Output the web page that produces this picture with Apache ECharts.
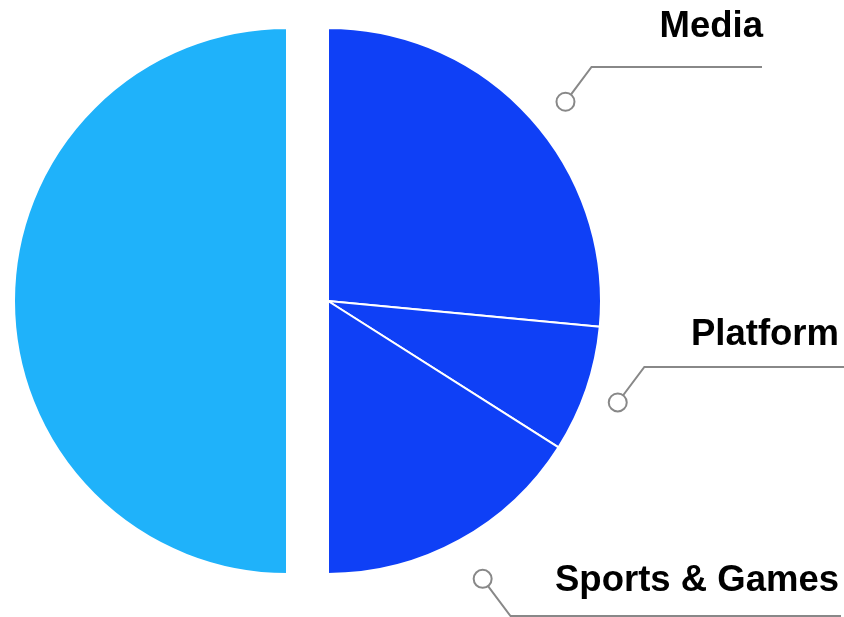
<!DOCTYPE html>
<html>
<head>
<meta charset="utf-8">
<script src="https://cdn.jsdelivr.net/npm/echarts@6/dist/echarts.min.js"></script>
<style>
  html, body { margin: 0; padding: 0; background: #fff; }
  #chart { width: 844px; height: 617px; }
</style>
</head>
<body>
<div id="chart"></div>
<script>
// Shares of the right half
const categories = ['Media', 'Platform', 'Sports & Games'];
const shares = [53, 15, 32];
// Pale half-disc that balances the three shares
const restName = 'Other';
const restValue = 100;

const DARK = '#0f40f6';
const LIGHT = '#1fb2fa';
const LEAD = '#888888';
const CENTER = [328, 301];
const RADIUS = 273;
const RING_R = 9;                  // marker ring at the foot of each leader
const LEAD_GAP = [37, 34, 45];     // how far beyond the rim each ring sits
const LEAD_SWING = [2.3, 0.4, -0.3]; // clockwise nudge of each ring, degrees
// Where each caption's leader levels off, and where its text sits
const captions = [
  { lineY: 67,  lineEnd: 762, textX: 763, textY: 27 },
  { lineY: 367, lineEnd: 844, textX: 839, textY: 335 },
  { lineY: 616, lineEnd: 841, textX: 839, textY: 581 }
];

const chart = echarts.init(document.getElementById('chart'), null, { renderer: 'canvas' });

function sliceLayout(i) {
  return chart.getModel().getSeriesByIndex(0).getData().getItemLayout(i);
}

function ringCenter(i) {
  const L = sliceLayout(i);
  const mid = (L.startAngle + L.endAngle) / 2 + LEAD_SWING[i] * Math.PI / 180;
  const d = L.r + LEAD_GAP[i];
  return [L.cx + d * Math.cos(mid), L.cy + d * Math.sin(mid)];
}

const pieData = categories.map((name, i) => ({
  name: name,
  value: shares[i],
  itemStyle: { color: DARK }
}));
pieData.push({
  name: restName,
  value: restValue,
  selected: true,
  itemStyle: { color: LIGHT },
  label: { show: false },
  labelLine: { show: false }
});

const option = {
  backgroundColor: '#ffffff',
  animation: false,
  series: [{
    type: 'pie',
    center: CENTER,
    radius: RADIUS,
    startAngle: 90,
    clockwise: true,
    selectedMode: 'single',
    selectedOffset: 41,
    avoidLabelOverlap: false,
    emphasis: { scale: false },
    itemStyle: { borderColor: '#ffffff', borderWidth: 2 },
    select: { itemStyle: { borderColor: '#ffffff', borderWidth: 2 } },
    label: {
      show: true,
      position: 'outside',
      formatter: '{b}',
      color: '#000000',
      fontFamily: '"Liberation Sans", Arial, sans-serif',
      fontWeight: 'bold',
      fontSize: 36.5
    },
    labelLine: {
      show: true,
      lineStyle: { color: LEAD, width: 2 }
    },
    labelLayout: function (p) {
      const i = p.dataIndex;
      if (i >= categories.length) return {};
      const c = ringCenter(i);
      const cap = captions[i];
      const rise = cap.lineY - c[1];
      const elbow = [c[0] + Math.abs(rise) * 0.75, cap.lineY];
      const dx = elbow[0] - c[0];
      const dy = elbow[1] - c[1];
      const len = Math.hypot(dx, dy);
      const start = [c[0] + dx / len * RING_R, c[1] + dy / len * RING_R];
      return {
        x: cap.textX,
        y: cap.textY,
        align: 'right',
        verticalAlign: 'middle',
        labelLinePoints: [start, elbow, [cap.lineEnd, cap.lineY]]
      };
    },
    data: pieData
  }]
};

chart.setOption(option);

chart.setOption({
  graphic: categories.map((_, i) => {
    const c = ringCenter(i);
    return {
      type: 'circle',
      silent: true,
      shape: { cx: c[0], cy: c[1], r: RING_R },
      style: { fill: '#ffffff', stroke: LEAD, lineWidth: 2 }
    };
  })
});
</script>
</body>
</html>
